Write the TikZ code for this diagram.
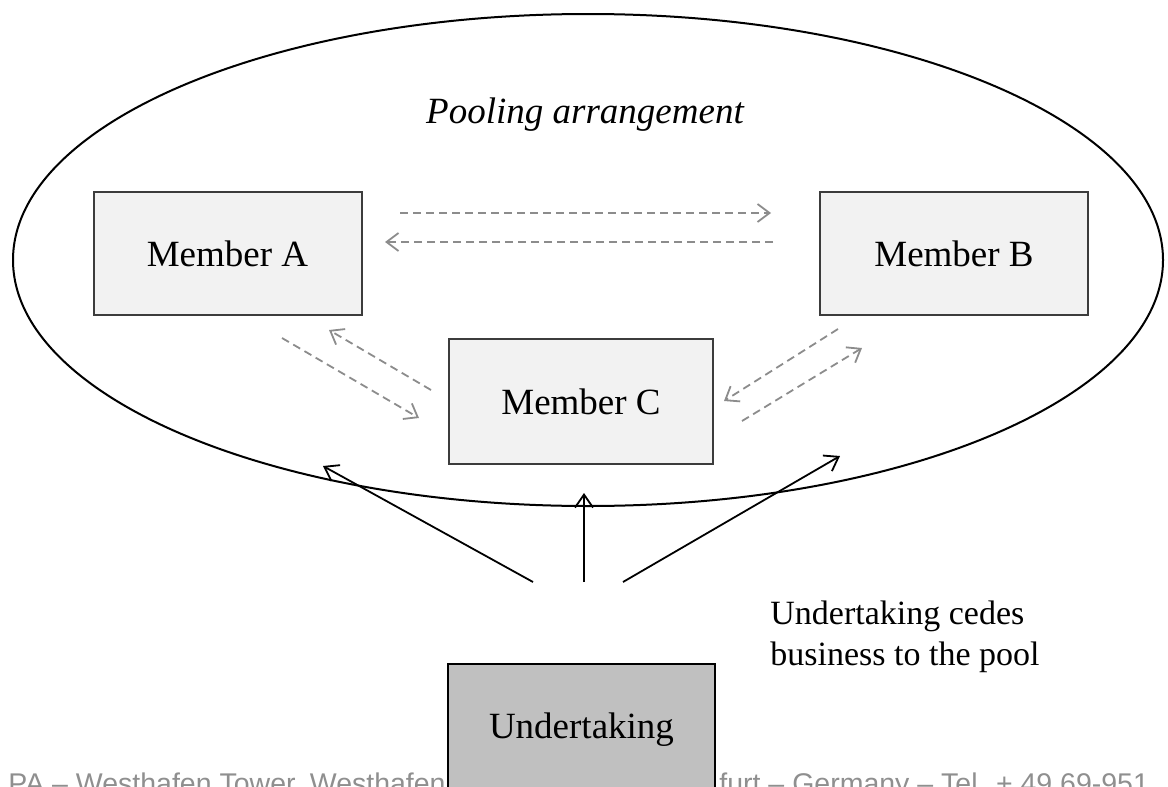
\documentclass[tikz,border=0pt]{standalone}
\usepackage{fontspec}
\setmainfont{Liberation Serif}
\newfontfamily\footfont{Liberation Sans}
\usetikzlibrary{arrows.meta,shapes.geometric}
\definecolor{memberfill}{HTML}{F2F2F2}
\definecolor{undfill}{HTML}{C0C0C0}
\definecolor{boxline}{HTML}{3C3C3C}
\definecolor{flowgray}{HTML}{8C8C8C}
\definecolor{footgray}{HTML}{8F8F8F}

\begin{document}
\begin{tikzpicture}[x={(0.5pt,0)},y={(0,-0.5pt)},
    member/.style={draw=boxline,line width=1pt,fill=memberfill,minimum width=134pt,minimum height=61.5pt,font=\fontsize{18.5}{22}\selectfont},
    footer/.style={font=\footfont\fontsize{14.25}{17}\selectfont,text=footgray,inner sep=0},
    flow/.style={draw=flowgray,line width=0.9pt,dash pattern=on 4pt off 2.5pt,-{Straight Barb[length=6pt,width=9pt]}},
    cede/.style={draw=black,line width=0.9pt,-{Straight Barb[length=6.5pt,width=9pt]}}]
  \useasboundingbox (0,0) rectangle (1168,787);
  \clip (0,0) rectangle (1168,787);
  \node[draw,ellipse,line width=1pt,inner sep=0,minimum width=575pt,minimum height=246pt] (pool) at (588,260) {};
  \node[font=\fontsize{18.5}{22}\selectfont\itshape] (title) at (585,115) {Pooling arrangement};
  \node[member] (A) at (227.5,253.5) {Member A};
  \node[member] (B) at (954,253.5) {Member B};
  \node[member,minimum width=132pt,minimum height=62.5pt] (C) at (581,401.5) {Member C};
  \node[footer,anchor=base east] (footL) at (446,793) {PA – Westhafen Tower, Westhafen};
  \node[footer,anchor=base west] (footR) at (719,793) {furt – Germany – Tel. + 49 69-951};
  \node[member,fill=undfill,draw=black,minimum width=133.5pt,minimum height=66pt] (U) at (581.5,730) {Undertaking};
  \node[font=\fontsize{17}{20.5}\selectfont,align=left,anchor=north west,inner sep=0] (note) at (770,601) {Undertaking cedes\\business to the pool};
  \coordinate (ab1) at (400,213);
  \coordinate (ab2) at (771,213);
  \coordinate (ba1) at (773,242);
  \coordinate (ba2) at (385,242);
  \coordinate (ac1) at (282,338);
  \coordinate (ac2) at (419,418);
  \coordinate (ca1) at (431,390);
  \coordinate (ca2) at (329,330);
  \coordinate (bc1) at (838,329);
  \coordinate (bc2) at (724,401);
  \coordinate (cb1) at (742,421);
  \coordinate (cb2) at (862,348);
  \foreach \f in {ab,ba,ac,ca,bc,cb} {
    \draw[flow] (\f1) -- (\f2);
  }
  \coordinate (u1) at (533,582);
  \coordinate (u2) at (584,582);
  \coordinate (u3) at (623,582);
  \coordinate (t1) at (323,466);
  \coordinate (t2) at (584,493);
  \coordinate (t3) at (840,456);
  \foreach \k in {1,2,3} {
    \draw[cede] (u\k) -- (t\k);
  }
\end{tikzpicture}
\end{document}
